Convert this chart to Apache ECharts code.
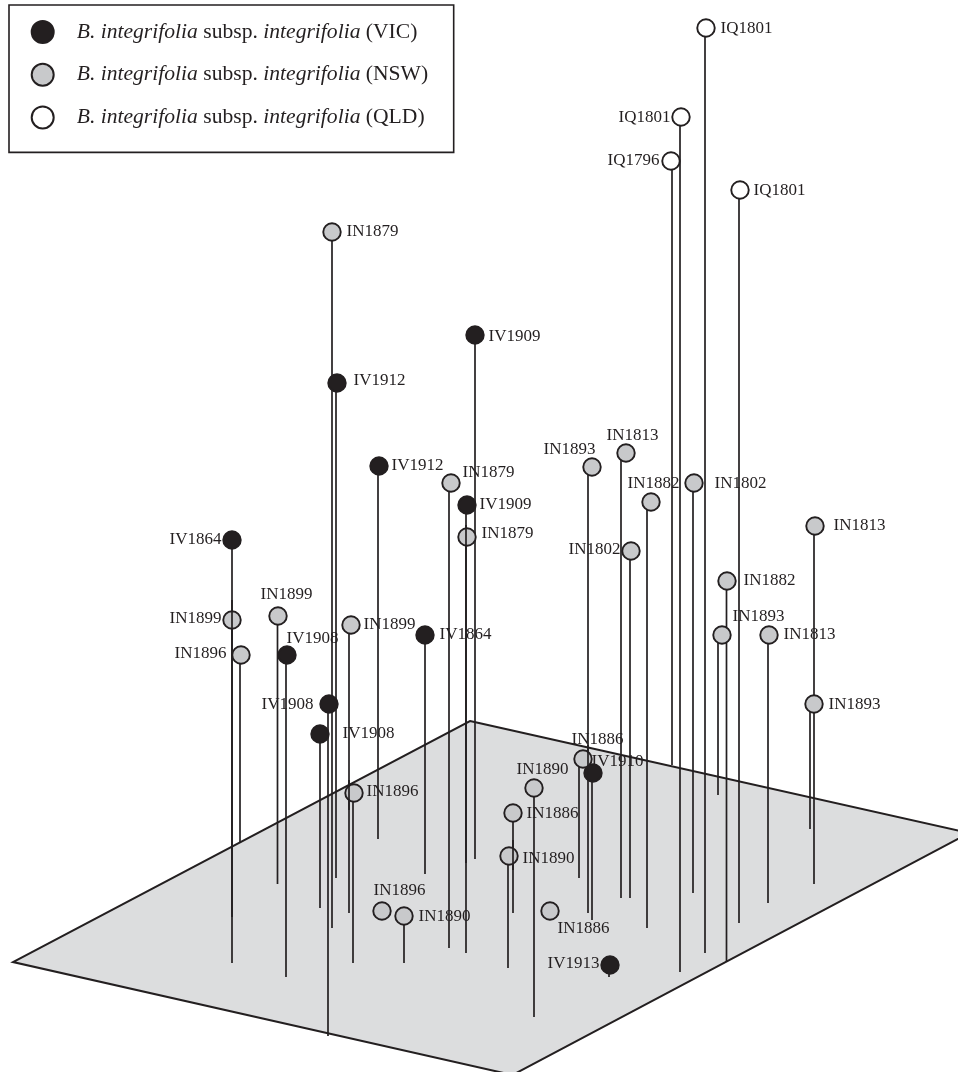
<!DOCTYPE html>
<html><head><meta charset="utf-8">
<style>html,body{margin:0;padding:0;background:#fff}#c{width:958px;height:1072px}</style>
<script src="https://cdn.jsdelivr.net/npm/echarts@6/dist/echarts.min.js"></script>
</head><body><div id="c"></div>
<script>
const seriesNames = ['B. integrifolia subsp. integrifolia (VIC)','B. integrifolia subsp. integrifolia (NSW)','B. integrifolia subsp. integrifolia (QLD)'];
const planeCorners = [[470,721],[969,833],[512.5,1075],[13,962]];
// [sample, x, top, stem x, stem bottom]
const vicSamples = [
 ['IV1864',232,540,232,917],['IV1908',287,655,286,977],['IV1908',329,704,328,1036],['IV1908',320,734,320,908],
 ['IV1912',337,383,336,878],['IV1912',379,466,378,839],['IV1864',425,635,425,874],['IV1909',475,335,475,859],
 ['IV1909',467,505,466,863],['IV1910',593,773,592,920],['IV1913',610,965,609,977]
];
const nswSamples = [
 ['IN1879',332,232,332,928],['IN1899',232,620,232,963],['IN1896',241,655,240,843],['IN1899',278,616,277.5,884],
 ['IN1899',351,625,349,913],['IN1896',354,793,353,963],['IN1896',382,911,382,911],['IN1890',404,916,404,963],
 ['IN1879',451,483,449,948],['IN1879',467,537,466,953],['IN1893',592,467,588,913],['IN1813',626,453,621,898],
 ['IN1882',651,502,647,928],['IN1802',694,483,693,893],['IN1802',631,551,630,898],['IN1882',727,581,726.5,962],
 ['IN1893',722,635,718,795],['IN1813',769,635,768,903],['IN1813',815,526,814,884],['IN1893',814,704,810,829],
 ['IN1886',583,759,579,878],['IN1890',534,788,534,1017],['IN1886',513,813,513,913],['IN1890',509,856,508,968],
 ['IN1886',550,911,550,911]
];
const qldSamples = [
 ['IQ1801',706,28,705,953],['IQ1801',681,117,680,972],['IQ1796',671,161,672,765],['IQ1801',740,190,739,923]
];
// stretches of stems [x, from, to] that pass in front of a neighbouring dot
const stemsInFront = [[232,600,640],[466,525,550],[588,745,775],[513,840,870],[349,780,810]];
// [text, left x, centre y]
const sampleLabels = [
 ['IQ1801',720,27],['IQ1801',618,116],['IQ1796',607,159],['IQ1801',753,189],['IN1879',346,230],['IV1909',488,335],
 ['IV1912',353,379],['IV1912',391,464],['IN1879',462,471],['IV1909',479,503],['IN1879',481,532],['IN1893',543,448],
 ['IN1813',606,434],['IN1882',627,482],['IN1802',714,482],['IN1802',568,548],['IN1882',743,579],['IN1893',732,615],
 ['IN1813',783,633],['IN1813',833,524],['IN1893',828,703],['IV1864',169,538],['IN1899',169,617],['IN1896',174,652],
 ['IN1899',260,593],['IV1908',286,637],['IN1899',363,623],['IV1864',439,633],['IV1908',261,703],['IV1908',342,732],
 ['IN1896',366,790],['IN1896',373,889],['IN1890',418,915],['IN1886',571,738],['IV1910',591,760],['IN1890',516,768],
 ['IN1886',526,812],['IN1890',522,857],['IN1886',557,927],['IV1913',547,962]
];

const INK='#231f20', SERIF='"Liberation Serif", serif';
const allStems = vicSamples.concat(nswSamples, qldSamples).filter(d => d[4] > d[2]).map(d => [d[3], d[2], d[4]]);
const toPoint = d => ({name:d[0], value:[d[1], d[2]]});
const dot = (name, data, fill) => ({
  type:'scatter', name, data:data.map(toPoint), symbol:'circle', symbolSize:17.5, z:3, silent:true,
  itemStyle:{color:fill, borderColor:INK, borderWidth:1.9, opacity:1}
});
const stemSeries = (data, z) => ({type:'custom', coordinateSystem:'cartesian2d', data, z, silent:true, clip:false,
  encode:{x:0, y:[1,2]},
  renderItem:(p,api)=>{
    const a=api.coord([api.value(0),api.value(1)]), b=api.coord([api.value(0),api.value(2)]);
    return {type:'line', shape:{x1:a[0],y1:a[1],x2:b[0],y2:b[1]}, style:{stroke:INK, lineWidth:1.7}};
  }});
const chart = echarts.init(document.getElementById('c'), null, {renderer:'canvas'});
chart.setOption({
  animation:false, backgroundColor:'#fff', tooltip:{show:false},
  grid:{left:0, top:0, right:0, bottom:0},
  xAxis:{type:'value', min:0, max:958, show:false},
  yAxis:{type:'value', min:0, max:1072, inverse:true, show:false},
  legend:{
    data:seriesNames, left:9, top:5, orient:'vertical', icon:'circle', itemWidth:22, itemHeight:22, itemGap:18.7,
    padding:[15,25.5,23,21.7], borderColor:INK, borderWidth:1.6, selectedMode:false, backgroundColor:'#fff',
    textStyle:{fontFamily:SERIF, fontSize:21.6, lineHeight:22, color:INK, padding:[0,0,0,18],
      rich:{i:{fontFamily:SERIF, fontSize:21.6, lineHeight:22, fontStyle:'italic', color:INK}}},
    formatter:n => n.replace(/^B\. integrifolia subsp\. integrifolia (.*)$/, '{i|B. integrifolia} subsp. {i|integrifolia} $1')
  },
  series:[
    {type:'custom', coordinateSystem:'cartesian2d', data:planeCorners, z:1, silent:true, clip:false,
     renderItem:(p,api)=> p.dataIndex===0 ? ({type:'polygon', shape:{points:planeCorners.map(c=>api.coord(c))},
        style:{fill:'#dcddde', stroke:INK, lineWidth:2}}) : null},
    stemSeries(allStems, 2),
    dot(seriesNames[0], vicSamples, INK),
    dot(seriesNames[1], nswSamples, '#c8c9cb'),
    dot(seriesNames[2], qldSamples, '#ffffff'),
    stemSeries(stemsInFront, 4),
    {type:'scatter', data:sampleLabels.map(d=>({name:d[0], value:[d[1],d[2]]})), symbol:'circle', symbolSize:1, z:5, silent:true,
     itemStyle:{color:'transparent', opacity:1},
     label:{show:true, position:'right', distance:0, offset:[0,1.5], formatter:'{b}', fontFamily:SERIF, fontSize:17, color:INK}}
  ]
});
</script></body></html>
